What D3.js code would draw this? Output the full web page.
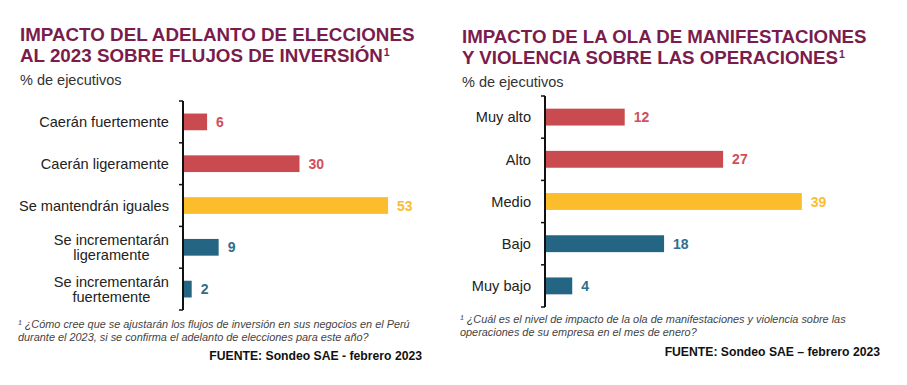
<!DOCTYPE html>
<html>
<head>
<meta charset="utf-8">
<style>
  body { margin: 0; background: #fff; font-family: "Liberation Sans", Arial, sans-serif; }
  svg { display: block; }
</style>
<script src="https://cdn.jsdelivr.net/npm/d3@7"></script>
</head>
<body>
<svg id="main"></svg>
<script>
  // data
  const leftTitle = ["IMPACTO DEL ADELANTO DE ELECCIONES", "AL 2023 SOBRE FLUJOS DE INVERSIÓN"]
  const leftCategories = ["Caerán fuertemente", "Caerán ligeramente", "Se mantendrán iguales",
                          "Se incrementarán\nligeramente", "Se incrementarán\nfuertemente"]
  const leftValues = [6, 30, 53, 9, 2]
  const leftNote = ["¹ ¿Cómo cree que se ajustarán los flujos de inversión en sus negocios en el Perú",
                    "durante el 2023, si se confirma el adelanto de elecciones para este año?"]
  const leftSource = "FUENTE: Sondeo SAE - febrero 2023"

  const rightTitle = ["IMPACTO DE LA OLA DE MANIFESTACIONES", "Y VIOLENCIA SOBRE LAS OPERACIONES"]
  const rightCategories = ["Muy alto", "Alto", "Medio", "Bajo", "Muy bajo"]
  const rightValues = [12, 27, 39, 18, 4]
  const rightNote = ["¹ ¿Cuál es el nivel de impacto de la ola de manifestaciones y violencia sobre las",
                     "operaciones de su empresa en el mes de enero?"]
  const rightSource = "FUENTE: Sondeo SAE – febrero 2023"

  const subtitle = "% de ejecutivos"

  const width = 907
  const height = 385
  const maroon = "#7a1c4c"
  const barColors = ["#c94b50", "#c94b50", "#fbbd2c", "#246583", "#246583"]
  const labelColors = ["#cf5057", "#cf5057", "#f9bd35", "#2f6e8c", "#2f6e8c"]

  const svg = d3.select("#main").attr("width", width).attr("height", height)

  function drawPanel(p) {
    const g = svg.append("g")

    // title
    const title = g.append("text")
      .attr("font-size", p.titleSize)
      .attr("font-weight", "bold")
      .attr("fill", maroon)
    p.title.forEach((t, i) => {
      title.append("tspan").attr("x", p.left).attr("y", p.titleY + i * 21).text(t)
      if (i == p.title.length - 1) {
        title.append("tspan").attr("font-size", 10.5).attr("dx", 1).attr("dy", -6).text("1")
      }
    })

    g.append("text")
      .attr("x", p.left)
      .attr("y", p.titleY + 44)
      .attr("font-size", 14.5)
      .attr("fill", "#333")
      .text(subtitle)

    const y = d3.scaleBand()
      .domain(p.categories)
      .range([p.top, p.bottom])
      .paddingInner(0.6)
      .paddingOuter(0.3)

    const x = d3.scaleLinear().domain([0, 100]).range([p.axisX + 1, p.axisX + 1 + p.fullWidth])

    // bars
    g.append("g")
      .selectAll("rect")
      .data(p.values)
      .join("rect")
      .attr("x", x(0))
      .attr("y", (d, i) => y(p.categories[i]))
      .attr("width", d => x(d) - x(0))
      .attr("height", y.bandwidth())
      .attr("fill", (d, i) => barColors[i])

    // value labels
    g.append("g")
      .attr("font-size", 14)
      .attr("font-weight", "bold")
      .selectAll("text")
      .data(p.values)
      .join("text")
      .attr("x", d => x(d) + 9)
      .attr("y", (d, i) => y(p.categories[i]) + y.bandwidth() / 2)
      .attr("dy", "0.36em")
      .attr("fill", (d, i) => labelColors[i])
      .text(d => d)

    // category labels
    const labels = g.append("g")
      .attr("font-size", 14.6)
      .attr("fill", "#222")
    p.categories.forEach(c => {
      const lines = c.split("\n")
      const cy = y(c) + y.bandwidth() / 2
      const t = labels.append("text")
      if (lines.length == 1) {
        t.attr("x", p.axisX - 14).attr("y", cy).attr("dy", "0.36em")
          .attr("text-anchor", "end").text(c)
      } else {
        t.attr("text-anchor", "middle")
        lines.forEach((l, i) => {
          t.append("tspan").attr("y", cy + (i - (lines.length - 1) / 2) * 15).attr("dy", "0.36em").text(l)
        })
        const w = d3.max(t.selectAll("tspan").nodes(), n => n.getComputedTextLength())
        t.selectAll("tspan").attr("x", p.axisX - 14 - w / 2)
      }
    })

    // bracket axis with ticks at band boundaries
    const step = y.step()
    const start = y(p.categories[0]) - y.paddingInner() * step / 2
    const bounds = d3.range(p.categories.length + 1).map(i => start + i * step)
    g.append("line")
      .attr("x1", p.axisX).attr("x2", p.axisX)
      .attr("y1", bounds[0]).attr("y2", bounds[bounds.length - 1])
      .attr("stroke", "#111").attr("stroke-width", 2)
    g.append("g")
      .selectAll("line")
      .data(bounds)
      .join("line")
      .attr("x1", p.axisX - 4).attr("x2", p.axisX)
      .attr("y1", d => d).attr("y2", d => d)
      .attr("stroke", "#111").attr("stroke-width", 1.5)

    // footnote
    const note = g.append("text")
      .attr("font-size", 10.9)
      .attr("font-style", "italic")
      .attr("fill", "#444")
    p.note.forEach((l, i) => {
      note.append("tspan").attr("x", p.left - 2).attr("y", p.noteY + i * 13).text(l)
    })

    g.append("text")
      .attr("x", p.sourceX)
      .attr("y", p.sourceY)
      .attr("text-anchor", "end")
      .attr("font-size", 12.2)
      .attr("font-weight", "bold")
      .attr("fill", "#111")
      .text(p.source)
  }

  drawPanel({
    title: leftTitle, categories: leftCategories, values: leftValues, note: leftNote, source: leftSource,
    left: 20, titleY: 41, titleSize: 18.8, top: 101, bottom: 310, axisX: 183, fullWidth: 385,
    noteY: 328, sourceX: 422, sourceY: 360
  })

  drawPanel({
    title: rightTitle, categories: rightCategories, values: rightValues, note: rightNote, source: rightSource,
    left: 462, titleY: 43, titleSize: 18.7, top: 96, bottom: 307, axisX: 545, fullWidth: 656,
    noteY: 323, sourceX: 880, sourceY: 356
  })
</script>
</body>
</html>
